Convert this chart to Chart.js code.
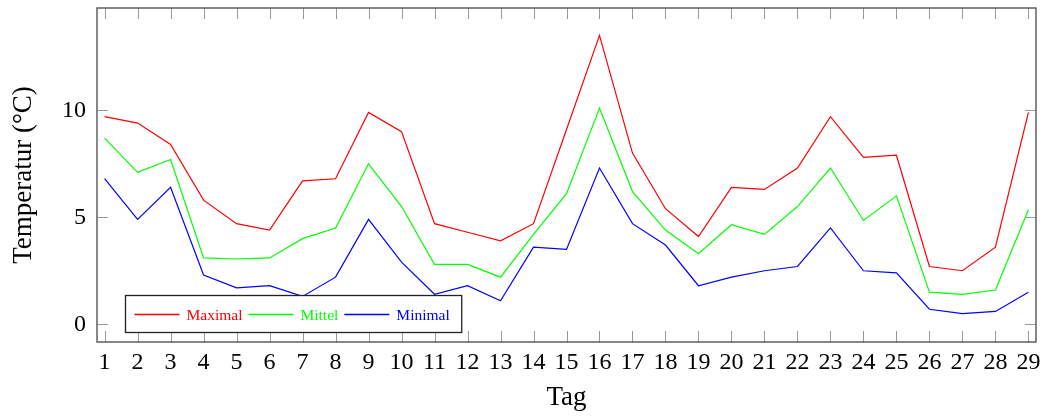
<!DOCTYPE html>
<html>
<head>
<meta charset="utf-8">
<script src="https://cdn.jsdelivr.net/npm/chart.js@4.4.1/dist/chart.umd.min.js"></script>
<style>
  html, body { margin: 0; padding: 0; background: #fff; }
  #wrap { width: 1045px; height: 416px; }
</style>
</head>
<body>
<div id="wrap"><canvas id="tempChart"></canvas></div>
<script>
// Tage und Temperaturen (°C)
const days = [1, 2, 3, 4, 5, 6, 7, 8, 9, 10, 11, 12, 13, 14, 15, 16, 17, 18, 19, 20, 21, 22, 23, 24, 25, 26, 27, 28, 29];
const maximal = [9.7, 9.4, 8.4, 5.8, 4.7, 4.4, 6.7, 6.8, 9.9, 9.0, 4.7, 4.3, 3.9, 4.7, 9.1, 13.5, 8.0, 5.4, 4.1, 6.4, 6.3, 7.3, 9.7, 7.8, 7.9, 2.7, 2.5, 3.6, 9.9];
const mittel = [8.7, 7.1, 7.7, 3.1, 3.05, 3.1, 4.0, 4.5, 7.5, 5.5, 2.8, 2.8, 2.2, 4.2, 6.1, 10.1, 6.2, 4.4, 3.3, 4.65, 4.2, 5.5, 7.3, 4.85, 6.0, 1.5, 1.4, 1.6, 5.35];
const minimal = [6.8, 4.9, 6.4, 2.3, 1.7, 1.8, 1.3, 2.2, 4.9, 2.9, 1.4, 1.8, 1.1, 3.6, 3.5, 7.3, 4.7, 3.7, 1.8, 2.2, 2.5, 2.7, 4.5, 2.5, 2.4, 0.7, 0.5, 0.6, 1.5];
const yTicks = [0, 5, 10];

const serif = '"Liberation Serif", "DejaVu Serif", serif';

function toPoints(values) {
    return values.map((v, i) => ({ x: days[i], y: v }));
}

// Rahmen mit Ticks nach innen + Legende unten links im Plot
const framePlugin = {
    id: 'frame',
    afterDatasetsDraw(chart) {
        const ctx = chart.ctx;
        const a = chart.chartArea;
        const xs = chart.scales.x, ys = chart.scales.y;
        const tl = 11;
        ctx.save();
        ctx.lineWidth = 1;
        ctx.strokeStyle = '#999';
        ctx.beginPath();
        days.forEach(d => {
            const px = Math.round(xs.getPixelForValue(d)) + 0.5;
            ctx.moveTo(px, a.bottom); ctx.lineTo(px, a.bottom - tl);
            ctx.moveTo(px, a.top); ctx.lineTo(px, a.top + tl);
        });
        yTicks.forEach(t => {
            const py = Math.round(ys.getPixelForValue(t)) + 0.5;
            ctx.moveTo(a.left, py); ctx.lineTo(a.left + tl, py);
            ctx.moveTo(a.right, py); ctx.lineTo(a.right - tl, py);
        });
        ctx.stroke();

        ctx.strokeStyle = '#555';
        ctx.lineWidth = 1.4;
        ctx.strokeRect(a.left, a.top, a.right - a.left, a.bottom - a.top);

        // Legende
        ctx.font = '15.5px ' + serif;
        const items = chart.data.datasets.map(ds => ({ text: ds.label, color: ds.borderColor, w: ctx.measureText(ds.label).width }));
        const padL = 9, lineLen = 45, gap = 7, itemGap = 6, padR = 12;
        let boxW = padL + padR;
        items.forEach((it, i) => { boxW += lineLen + gap + it.w + (i ? itemGap : 0); });
        const boxH = 37;
        const bx = Math.round(a.left + 28) + 0.5, by = Math.round(a.bottom - 10 - boxH) + 0.5;
        ctx.fillStyle = '#fff';
        ctx.fillRect(bx, by, boxW, boxH);
        ctx.strokeStyle = '#222';
        ctx.lineWidth = 1.3;
        ctx.strokeRect(bx, by, boxW, boxH);
        let cx = bx + padL;
        const cy = Math.round(by + boxH / 2) + 0.5;
        ctx.textBaseline = 'middle';
        items.forEach((it, i) => {
            if (i) cx += itemGap;
            ctx.strokeStyle = it.color;
            ctx.lineWidth = 1.3;
            ctx.beginPath();
            ctx.moveTo(cx, cy); ctx.lineTo(cx + lineLen, cy);
            ctx.stroke();
            cx += lineLen + gap;
            ctx.fillStyle = it.color;
            ctx.fillText(it.text, cx, cy + 1);
            cx += it.w;
        });
        ctx.restore();
    }
};

const data = {
    datasets: [
        { label: 'Maximal', data: toPoints(maximal), borderColor: '#ff0000' },
        { label: 'Mittel', data: toPoints(mittel), borderColor: '#00ff00' },
        { label: 'Minimal', data: toPoints(minimal), borderColor: '#0000ff' }
    ].map(ds => Object.assign(ds, { borderWidth: 1.2, pointRadius: 0, tension: 0, fill: false }))
};

const config = {
    type: 'line',
    data: data,
    options: {
        responsive: true,
        maintainAspectRatio: false,
        animation: false,
        devicePixelRatio: 1,
        layout: { padding: { left: 0, right: 9, top: 8, bottom: 0 } },
        plugins: {
            legend: { display: false },
            tooltip: { enabled: false }
        },
        scales: {
            x: {
                type: 'linear',
                min: 0.77,
                max: 29.23,
                afterBuildTicks: s => { s.ticks = days.map(v => ({ value: v })); },
                afterFit: s => { s.height = 74; s.paddingLeft = 0; s.paddingRight = 0; },
                grid: { display: false, drawTicks: false },
                border: { display: false },
                ticks: { color: '#000', font: { family: serif, size: 24 }, padding: 6, autoSkip: false, maxRotation: 0 },
                title: { display: true, text: 'Tag', color: '#000', font: { family: serif, size: 27 }, padding: { top: 0, bottom: 2 } }
            },
            y: {
                min: -0.83,
                max: 14.78,
                afterBuildTicks: s => { s.ticks = yTicks.map(v => ({ value: v })); },
                afterFit: s => { s.width = 97; s.paddingTop = 0; s.paddingBottom = 0; },
                grid: { display: false, drawTicks: false },
                border: { display: false },
                ticks: { color: '#000', font: { family: serif, size: 24 }, padding: 11 },
                title: { display: true, text: 'Temperatur (°C)', color: '#000', font: { family: serif, size: 27 }, padding: { top: 7.5, bottom: 0 } }
            }
        }
    },
    plugins: [framePlugin]
};

window.onload = function() {
    const ctx = document.getElementById('tempChart').getContext('2d');
    new Chart(ctx, config);
};
</script>
</body>
</html>
